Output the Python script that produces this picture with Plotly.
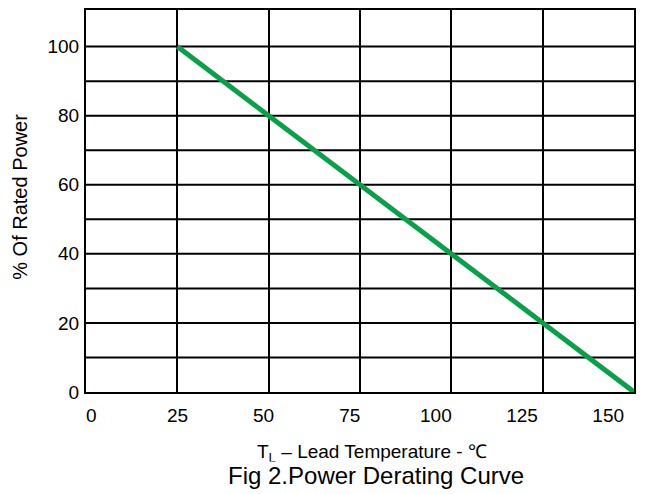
import plotly.graph_objects as go

# Data
temp = [25, 150]          # grid-based x positions of the derating line
power = [100, 0]          # % of rated power
x_tick_vals = [0, 25, 50, 75, 100, 125, 150]
x_tick_text = ["0", "25", "50", "75", "100", "125", "150"]
y_tick_vals = [0, 20, 40, 60, 80, 100]
y_grid_vals = [10, 20, 30, 40, 50, 60, 70, 80, 90, 100]

FONT = "Liberation Sans, Arial, sans-serif"

fig = go.Figure()
fig.add_trace(go.Scatter(x=temp, y=power, mode="lines",
                         line=dict(color="#0aa04a", width=5),
                         showlegend=False, hoverinfo="skip"))
# invisible trace on label axis
fig.add_trace(go.Scatter(x=[0], y=[0], xaxis="x2", mode="markers",
                         marker=dict(opacity=0), showlegend=False, hoverinfo="skip"))

fig.update_layout(
    width=642, height=486,
    margin=dict(l=78, r=16, t=2, b=102, autoexpand=False),
    paper_bgcolor="white", plot_bgcolor="white",
    font=dict(family=FONT, color="black", size=19),
    xaxis=dict(range=[0, 150], dtick=25, tick0=0, showgrid=True,
               gridcolor="black", gridwidth=2, showticklabels=False,
               showline=True, linecolor="black", linewidth=2, mirror=True,
               zeroline=False, ticks=""),
    xaxis2=dict(overlaying="x", anchor="y", side="bottom",
                range=[-1.54, 157.5], tickvals=x_tick_vals, ticktext=x_tick_text,
                showgrid=False, zeroline=False, showline=False, ticks="",
                tickfont=dict(size=19, family=FONT), ticklabelstandoff=10),
    yaxis=dict(range=[0, 110.6], tickmode="array", tickvals=y_tick_vals,
               showgrid=False, showline=True, linecolor="black",
               linewidth=2, mirror=True, zeroline=False, ticks="",
               tickfont=dict(size=19, family=FONT), ticklabelstandoff=1),
)
for v in y_grid_vals:
    fig.add_shape(type="line", xref="x", yref="y", x0=0, x1=150, y0=v, y1=v,
                  line=dict(color="black", width=2), layer="below")

fig.add_annotation(text="% Of Rated Power", xref="paper", yref="paper",
                   x=-0.1198, y=0.512, textangle=-90, showarrow=False,
                   font=dict(size=20, family=FONT), xanchor="center", yanchor="middle")
fig.add_annotation(text="T<sub>L</sub> – Lead Temperature - ℃", xref="paper", yref="paper",
                   x=0.5216, y=-0.160, showarrow=False,
                   font=dict(size=19, family=FONT), xanchor="center", yanchor="middle")
fig.add_annotation(text="Fig 2.Power Derating Curve", xref="paper", yref="paper",
                   x=0.5295, y=-0.218, showarrow=False, bgcolor="white", borderpad=0,
                   font=dict(size=24, family=FONT), xanchor="center", yanchor="middle")

fig.write_html("out.html")
